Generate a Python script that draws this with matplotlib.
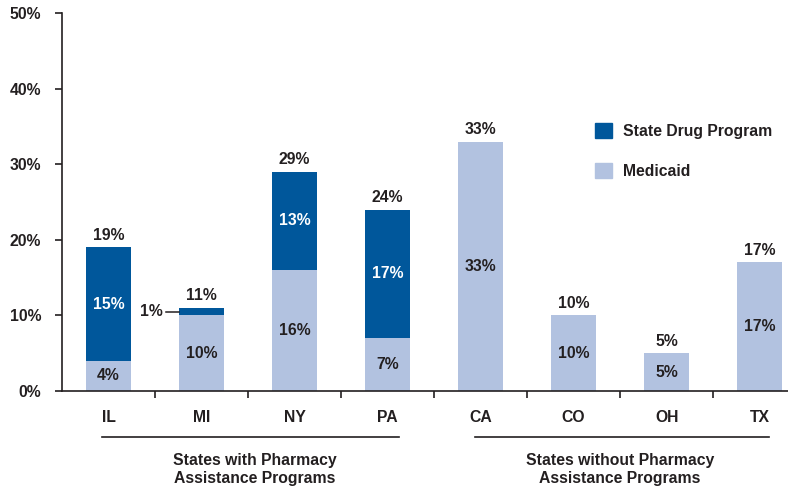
import matplotlib
matplotlib.use("Agg")
import matplotlib.pyplot as plt
from matplotlib.patches import Patch

plt.rcParams['font.family'] = ['Liberation Sans', 'DejaVu Sans']
plt.rcParams['font.weight'] = 'bold'

states = ["IL", "MI", "NY", "PA", "CA", "CO", "OH", "TX"]
medicaid = [4, 10, 16, 7, 33, 10, 5, 17]
state_drug = [15, 1, 13, 17, 0, 0, 0, 0]
totals = [19, 11, 29, 24, 33, 10, 5, 17]
yticks = [0, 10, 20, 30, 40, 50]
group_labels = ["States with Pharmacy\nAssistance Programs",
                "States without Pharmacy\nAssistance Programs"]

dark = "#00579B"
light = "#B2C2E0"
txt = "#231F20"

fig = plt.figure(figsize=(7.88, 4.91), dpi=100)
ax = fig.add_axes([0.0787, 0.2037, 0.9213, 0.7698])

x = list(range(len(states)))
w = 0.49
ax.bar(x, medicaid, width=w, color=light, label="Medicaid", zorder=2)
ax.bar(x, state_drug, width=w, bottom=medicaid, color=dark,
       label="State Drug Program", zorder=2)

fs = 11.3
for i in x:
    m = medicaid[i]
    s = state_drug[i]
    ax.text(i, m / 2, f"{m}%", ha="center", va="center", fontsize=fs,
            color=txt, fontweight="bold")
    if s >= 5:
        ax.text(i, m + s / 2, f"{s}%", ha="center", va="center",
                fontsize=fs, color="white", fontweight="bold")
    elif s > 0:
        xe = i - w / 2
        ym = m + s / 2
        ax.plot([xe - 0.14, xe], [ym, ym], color=txt, lw=1.1, zorder=3)
        ax.text(xe - 0.175, ym, f"{s}%", ha="right", va="center",
                fontsize=fs, color=txt, fontweight="bold")
    ax.text(i, totals[i] + 0.6, f"{totals[i]}%", ha="center", va="bottom",
            fontsize=fs, color=txt, fontweight="bold")

ax.set_ylim(0, 50)
ax.set_xlim(-0.5, 6.95 + (788 - 755) / 93)
ax.set_yticks(yticks)
ax.set_yticklabels([f"{t}%" for t in yticks], fontsize=fs, color=txt,
                   fontweight="bold")
ax.set_xticks([i + 0.5 for i in range(len(states))][:-1])
ax.set_xticklabels([])
ax.set_xticks(x, minor=True)
ax.set_xticklabels(states, minor=True, fontsize=fs, color=txt,
                   fontweight="bold")
ax.tick_params(axis="x", which="minor", length=0, pad=14)
ax.tick_params(axis="x", which="major", length=5, width=1.2, color=txt,
               direction="out")
ax.tick_params(axis="y", length=5, width=1.2, color=txt, direction="out",
               pad=10)
for sp in ["top", "right"]:
    ax.spines[sp].set_visible(False)
for sp in ["left", "bottom"]:
    ax.spines[sp].set_color(txt)
    ax.spines[sp].set_linewidth(1.2)

# group lines and labels
trans = ax.get_xaxis_transform()
groups = [(-0.07, 3.12), (3.94, 7.1)]
for (a, b), lab in zip(groups, group_labels):
    ax.plot([a, b], [-0.122, -0.122], transform=trans, color=txt, lw=1.2,
            clip_on=False)
    ax.text((a + b) / 2 + (0.05 if lab.startswith("States with ") else -0.02),
            -0.163, lab, transform=trans, ha="center", va="top", fontsize=fs,
            color=txt, fontweight="bold", linespacing=1.25)

handles = [Patch(color=dark, label="State Drug Program"),
           Patch(color=light, label="Medicaid")]
leg = ax.legend(handles=handles, loc="upper left",
                bbox_to_anchor=(0.715, 0.747), frameon=False,
                handlelength=1.1, handleheight=1.1, labelspacing=1.55,
                handletextpad=0.65, prop=dict(size=fs, weight="bold"))
for t in leg.get_texts():
    t.set_color(txt)

fig.savefig("out.png", dpi=100)
